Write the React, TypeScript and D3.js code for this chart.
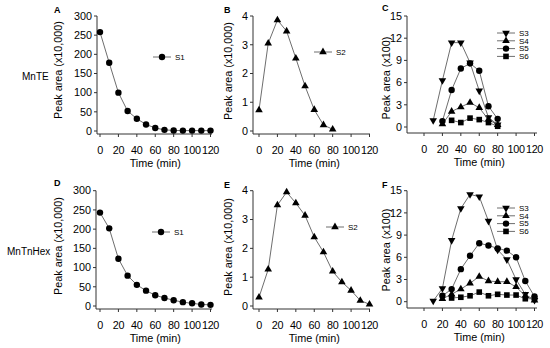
import * as d3 from "d3";

// time points (min)
const timeAll = [0, 10, 20, 30, 40, 50, 60, 70, 80, 90, 100, 110, 120];
const xTicks = [0, 20, 40, 60, 80, 100, 120];

// MnTE
const aS1 = [258, 178, 100, 52, 32, 17, 8, 3, 1.5, 1, 1, 1, 1];
const bTime = [0, 10, 20, 30, 40, 50, 60, 70, 80];
const bS2 = [0.73, 3.05, 3.86, 3.47, 2.53, 1.56, 0.74, 0.21, 0.06];
const cS3 = { t: [10, 20, 30, 40, 50, 60, 70, 80], v: [0.9, 6.3, 11.4, 11.4, 8.7, 4.9, 1.3, 0.3] };
const cS4 = { t: [20, 30, 40, 50, 60, 70, 80], v: [0.4, 2.1, 2.7, 3.3, 2.6, 1.0, 0.3] };
const cS5 = { t: [20, 30, 40, 50, 60, 70, 80], v: [0.8, 5.0, 7.9, 8.6, 7.6, 2.8, 1.1] };
const cS6 = { t: [30, 40, 50, 60, 70, 80], v: [0.9, 0.6, 1.2, 1.0, 0.6, 0.1] };

// MnTnHex
const dS1 = [243, 202, 123, 79, 55, 40, 28, 21, 15, 10, 7, 4, 3];
const eS2 = [0.3, 1.27, 3.5, 3.95, 3.57, 3.14, 2.39, 1.87, 1.2, 0.83, 0.54, 0.19, 0.06];
const fTime = [20, 30, 40, 50, 60, 70, 80, 90, 100, 110, 120];
const fS3 = { t: [10, ...fTime], v: [0.1, 1.8, 8.3, 12.6, 14.5, 14.2, 10.9, 7.0, 5.7, 3.0, 1.0, 0.2] };
const fS4 = { t: fTime, v: [0.4, 1.0, 1.7, 2.5, 3.4, 2.8, 2.7, 2.7, 2.0, 0.8, 0.2] };
const fS5 = { t: fTime, v: [0.8, 1.7, 4.4, 6.2, 7.9, 7.6, 7.2, 6.9, 6.0, 2.8, 0.7] };
const fS6 = { t: fTime.slice(1), v: [0.5, 0.6, 0.8, 1.3, 0.8, 1.0, 0.9, 0.9, 0.4, 0.4] };

const font = "'Liberation Sans', Arial, sans-serif";

type Shape = "circle" | "up" | "down" | "square";
type Series = { name: string; shape: Shape; t: number[]; v: number[] };

const triPath = d3.symbol().type(d3.symbolTriangle).size(25)()!;

function Marker({ shape, x, y }: { shape: Shape; x: number; y: number }) {
  if (shape === "circle") return <circle cx={x} cy={y} r={3.2} fill="#000" />;
  if (shape === "square") return <rect x={x - 2.8} y={y - 2.8} width={5.6} height={5.6} fill="#000" />;
  return (
    <path
      d={triPath}
      transform={`translate(${x},${y})${shape === "down" ? " rotate(180)" : ""}`}
      fill="#000"
    />
  );
}

type PanelProps = {
  letter: string;
  letterPos: [number, number];
  axisX: number;
  x0: number;
  xEnd: number;
  yTop: number;
  yZero: number;
  axisY: number;
  yMax: number;
  yTicks: number[];
  yTitle: string;
  titleX: number;
  titleY: number;
  series: Series[];
  legend: [number, number];
};

function Panel(p: PanelProps) {
  const x = d3.scaleLinear().domain([0, 120]).range([p.x0, p.x0 + 110.5]);
  const y = d3.scaleLinear().domain([0, p.yMax]).range([p.yZero, p.yTop]);
  const line = d3
    .line<[number, number]>()
    .x((d) => x(d[0]))
    .y((d) => y(d[1]));
  const axisColor = "#333";
  return (
    <g fontFamily={font}>
      <text x={p.letterPos[0]} y={p.letterPos[1]} fontSize={9} fontWeight="bold">
        {p.letter}
      </text>
      {/* y axis */}
      <line x1={p.axisX} x2={p.axisX} y1={p.yTop} y2={p.axisY} stroke={axisColor} />
      {p.yTicks.map((t) => (
        <g key={t}>
          <line x1={p.axisX - 3} x2={p.axisX} y1={y(t)} y2={y(t)} stroke={axisColor} />
          <text x={p.axisX - 5} y={y(t)} dy="0.35em" textAnchor="end" fontSize={10.8}>
            {t}
          </text>
        </g>
      ))}
      <text
        transform={`translate(${p.titleX},${p.titleY}) rotate(-90)`}
        textAnchor="middle"
        fontSize={10.8}
      >
        {p.yTitle}
      </text>
      {/* x axis */}
      <line x1={p.axisX} x2={p.xEnd} y1={p.axisY} y2={p.axisY} stroke={axisColor} />
      {xTicks.map((t) => (
        <g key={t}>
          <line x1={x(t)} x2={x(t)} y1={p.axisY} y2={p.axisY + 3} stroke={axisColor} />
          <text x={x(t)} y={p.axisY + 20} textAnchor="middle" fontSize={10.8} letterSpacing={-0.3}>
            {t}
          </text>
        </g>
      ))}
      <text x={x(60)} y={p.axisY + 33} textAnchor="middle" fontSize={10.8}>
        Time (min)
      </text>
      {/* series */}
      {p.series.map((s) => {
        const pts = s.t.map((t, i) => [t, s.v[i]] as [number, number]);
        return (
          <g key={s.name}>
            <path d={line(pts)!} fill="none" stroke="#6e6e6e" strokeWidth={1} />
            {pts.map((d, i) => (
              <Marker key={i} shape={s.shape} x={x(d[0])} y={y(d[1])} />
            ))}
          </g>
        );
      })}
      {/* legend */}
      {p.series.map((s, i) => {
        const ly = p.legend[1] + i * 7.8;
        const lx = p.legend[0];
        return (
          <g key={s.name}>
            <line x1={lx - 9} x2={lx + 9} y1={ly} y2={ly} stroke="#6e6e6e" />
            <Marker shape={s.shape} x={lx} y={ly} />
            <text x={lx + 13} y={ly} dy="0.35em" fontSize={8}>
              {s.name}
            </text>
          </g>
        );
      })}
    </g>
  );
}

export default function App() {
  const top = { yTop: 16, yZero: 131, axisY: 134 };
  const bot = { yTop: 190.7, yZero: 306, axisY: 309 };
  return (
    <svg width={550} height={348} style={{ position: "absolute", left: 0, top: 0, background: "#fff" }}>
      <text x={22} y={80} fontSize={10} fontFamily={font}>MnTE</text>
      <text x={7} y={255} fontSize={10} fontFamily={font}>MnTnHex</text>
      <Panel
        letter="A" letterPos={[54, 13]} axisX={97} x0={100} xEnd={212} {...top}
        yMax={300} yTicks={[0, 50, 100, 150, 200, 250, 300]} yTitle="Peak area (x10,000)" titleX={62} titleY={70}
        series={[{ name: "S1", shape: "circle", t: timeAll, v: aS1 }]} legend={[162, 57]}
      />
      <Panel
        letter="B" letterPos={[224, 13]} axisX={253} x0={259} xEnd={370} {...top}
        yMax={4} yTicks={[0, 1, 2, 3, 4]} yTitle="Peak area (x10,000)" titleX={232} titleY={71}
        series={[{ name: "S2", shape: "up", t: bTime, v: bS2 }]} legend={[323, 52]}
      />
      <Panel
        letter="C" letterPos={[382, 11]} axisX={407} x0={424} xEnd={537} yTop={16} yZero={127} axisY={133}
        yMax={15} yTicks={[0, 3, 6, 9, 12, 15]} yTitle="Peak area (x100)" titleX={390} titleY={78}
        series={[
          { name: "S3", shape: "down", ...cS3 },
          { name: "S4", shape: "up", ...cS4 },
          { name: "S5", shape: "circle", ...cS5 },
          { name: "S6", shape: "square", ...cS6 },
        ]}
        legend={[506, 33]}
      />
      <Panel
        letter="D" letterPos={[54, 186]} axisX={96} x0={100} xEnd={212} {...bot}
        yMax={300} yTicks={[0, 50, 100, 150, 200, 250, 300]} yTitle="Peak area (x10,000)" titleX={62} titleY={246}
        series={[{ name: "S1", shape: "circle", t: timeAll, v: dS1 }]} legend={[161, 232]}
      />
      <Panel
        letter="E" letterPos={[224, 188]} axisX={253} x0={259} xEnd={370} {...bot}
        yMax={4} yTicks={[0, 1, 2, 3, 4]} yTitle="Peak area (x10,000)" titleX={232} titleY={247}
        series={[{ name: "S2", shape: "up", t: timeAll, v: eS2 }]} legend={[335, 227]}
      />
      <Panel
        letter="F" letterPos={[382, 188]} axisX={407} x0={424} xEnd={537} yTop={190.7} yZero={301.7} axisY={308}
        yMax={15} yTicks={[0, 3, 6, 9, 12, 15]} yTitle="Peak area (x100)" titleX={390} titleY={250}
        series={[
          { name: "S3", shape: "down", ...fS3 },
          { name: "S4", shape: "up", ...fS4 },
          { name: "S5", shape: "circle", ...fS5 },
          { name: "S6", shape: "square", ...fS6 },
        ]}
        legend={[506, 208]}
      />
    </svg>
  );
}
